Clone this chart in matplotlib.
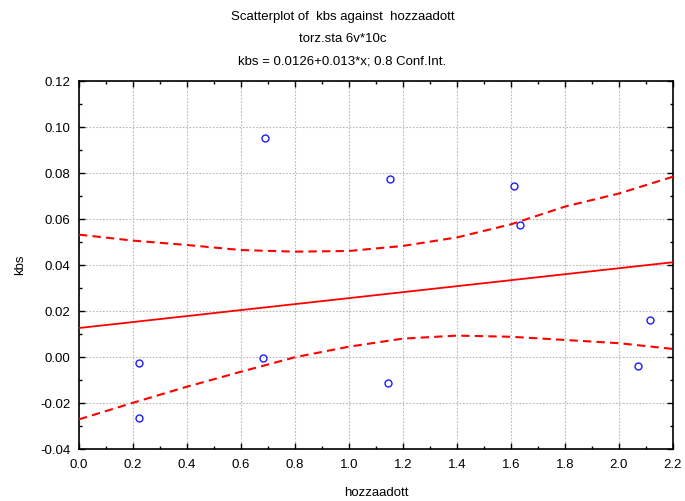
import matplotlib
matplotlib.use('Agg')
import matplotlib.pyplot as plt
from matplotlib.ticker import MultipleLocator
import numpy as np

plt.rcParams['font.family'] = ['Liberation Sans', 'DejaVu Sans']

# data
hozzaadott = [0.222, 0.222, 0.689, 0.683, 1.150, 1.146, 1.612, 1.634, 2.069, 2.115]
kbs        = [-0.0026, -0.0267, 0.0951, -0.0006, 0.0775, -0.0112, 0.0742, 0.0574, -0.0040, 0.0160]

intercept, slope = 0.0126, 0.013

band_x     = [0.0, 0.2, 0.4, 0.6, 0.8, 1.0, 1.2, 1.4, 1.6, 1.8, 2.0, 2.2]
band_upper = [0.0532, 0.0506, 0.0487, 0.0465, 0.0458, 0.0461, 0.0483, 0.0520, 0.0577, 0.0654, 0.0711, 0.0784]
band_lower = [-0.0271, -0.0199, -0.0129, -0.0064, -0.0001, 0.0045, 0.0080, 0.0093, 0.0088, 0.0074, 0.0060, 0.0035]

FS = 9.5

fig = plt.figure(figsize=(6.85, 5.01), dpi=100)
ax = fig.add_axes([79/685, 1 - 449/501, (673 - 79)/685, (449 - 81)/501])

xl = np.array([0.0, 2.2])
ax.plot(xl, intercept + slope * xl, color='#ff0000', lw=1.3, zorder=3)
ax.plot(band_x, band_upper, color='#ff0000', lw=1.5, ls=(0, (4, 2.5)), zorder=3)
ax.plot(band_x, band_lower, color='#ff0000', lw=1.5, ls=(0, (4, 2.5)), zorder=3)
ax.plot(hozzaadott, kbs, 'o', mfc='none', mec='#1c1cff', mew=1.0, ms=5, zorder=4)

ax.set_xlim(0, 2.2)
ax.set_ylim(-0.04, 0.12)
ax.xaxis.set_major_locator(MultipleLocator(0.2))
ax.xaxis.set_minor_locator(MultipleLocator(0.1))
ax.yaxis.set_major_locator(MultipleLocator(0.02))
ax.yaxis.set_minor_locator(MultipleLocator(0.01))
ax.xaxis.set_major_formatter(lambda v, p: f'{v:.1f}')
ax.yaxis.set_major_formatter(lambda v, p: f'{v:.2f}')
ax.tick_params(which='both', direction='in', top=True, right=True,
               labelsize=FS, colors='black')
ax.tick_params(which='major', length=4, width=1)
ax.tick_params(which='minor', length=2.5, width=1)
ax.tick_params(axis='x', pad=7)
ax.tick_params(axis='y', pad=6)
ax.grid(True, which='major', color='#b8b8b8', ls=(0, (1.5, 1.5)), lw=0.8)
for s in ax.spines.values():
    s.set_linewidth(1.2)

ax.set_xlabel('hozzaadott', fontsize=FS, labelpad=12)
ax.set_ylabel('kbs', fontsize=FS, labelpad=10)

fig.text(0.5, 1 - 17/501, 'Scatterplot of  kbs against  hozzaadott', ha='center', va='center', fontsize=FS)
fig.text(0.5, 1 - 39/501, 'torz.sta 6v*10c', ha='center', va='center', fontsize=FS)
fig.text(0.5, 1 - 61/501, 'kbs = 0.0126+0.013*x; 0.8 Conf.Int.', ha='center', va='center', fontsize=FS)

fig.savefig('out.png', dpi=100)
